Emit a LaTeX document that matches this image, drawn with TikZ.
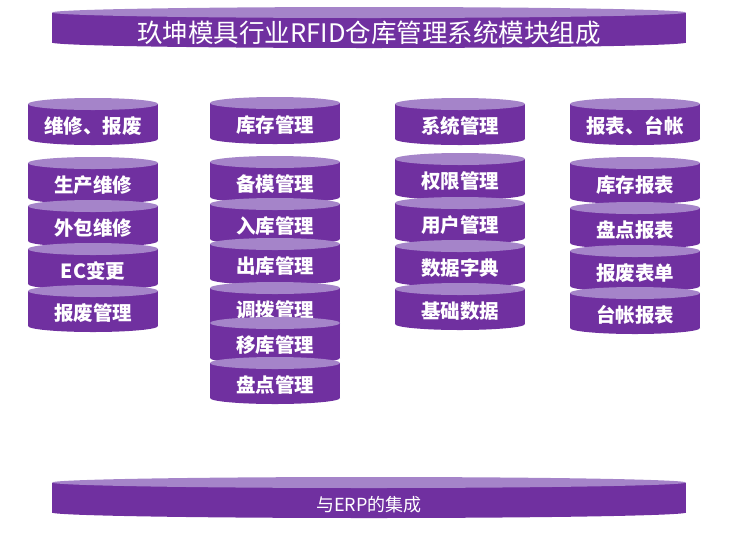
\documentclass[tikz,border=0pt]{standalone}
\usepackage{fontspec}
\setmainfont{Noto Sans CJK SC}
\definecolor{drumbody}{HTML}{7030A0}
\definecolor{drumtop}{HTML}{A584C9}
% module drum: name, x, top of rim, text
\newcommand\drum[4]{%
  \fill[drumbody] (#2,#3+41) ellipse [x radius=65pt, y radius=6pt];
  \node[modbox] (#1) at (#2,#3+23.5) {#4};
  \fill[drumtop] (#1.north) ellipse [x radius=65pt, y radius=6pt];
}
% wide band: name, top of rim, text options, text
\newcommand\band[4]{%
  \fill[drumbody] (369,#2+35.5) ellipse [x radius=317pt, y radius=5.5pt];
  \node[wideband, #3] (#1) at (369,#2+20.5) {#4};
  \fill[drumtop] (#1.north) ellipse [x radius=317pt, y radius=5.5pt];
}

\begin{document}
\begin{tikzpicture}[x=1pt, y=-1pt,
                modbox/.style={rectangle, fill=drumbody, inner sep=0pt, outer sep=0pt,
                  minimum width=130pt, minimum height=35pt, text=white,
                  text height=24.5pt, text depth=0pt,
                  font=\bfseries\fontsize{19.5}{19.5}\selectfont},
                wideband/.style={rectangle, fill=drumbody, inner sep=0pt, outer sep=0pt,
                  minimum width=634pt, minimum height=30pt, text=white}]
                \useasboundingbox (0,0) rectangle (742,539);
                \band{title}{7}{font=\fontsize{25.5}{25.5}\selectfont, text height=30pt, text depth=-6pt}{玖坤模具行业RFID仓库管理系统模块组成}
                % repair column
                \drum{rep}{93}{98}{维修、报废}
                \drum{rep1}{93}{157}{生产维修}
                \drum{rep2}{93}{200}{外包维修}
                \drum{rep3}{93}{243}{EC变更}
                \drum{rep4}{93}{285}{报废管理}
                % stock column
                \drum{inv}{275}{97}{库存管理}
                \drum{inv1}{275}{156}{备模管理}
                \drum{inv2}{275}{198}{入库管理}
                \drum{inv3}{275}{238}{出库管理}
                \drum{inv4}{275}{282}{调拨管理}
                \drum{inv5}{275}{317}{移库管理}
                \drum{inv6}{275}{357}{盘点管理}
                % system column
                \drum{sys}{460}{98}{系统管理}
                \drum{sys1}{460}{153}{权限管理}
                \drum{sys2}{460}{197}{用户管理}
                \drum{sys3}{460}{240}{数据字典}
                \drum{sys4}{460}{283}{基础数据}
                % report column
                \drum{rpt}{635}{98}{报表、台帐}
                \drum{rpt1}{635}{157}{库存报表}
                \drum{rpt2}{635}{202}{盘点报表}
                \drum{rpt3}{635}{245}{报废表单}
                \drum{rpt4}{635}{287}{台帐报表}
                \band{erp}{477}{font=\fontsize{18}{18}\selectfont, text height=27.2pt, text depth=0pt}{与ERP的集成}
            \end{tikzpicture}
\end{document}
